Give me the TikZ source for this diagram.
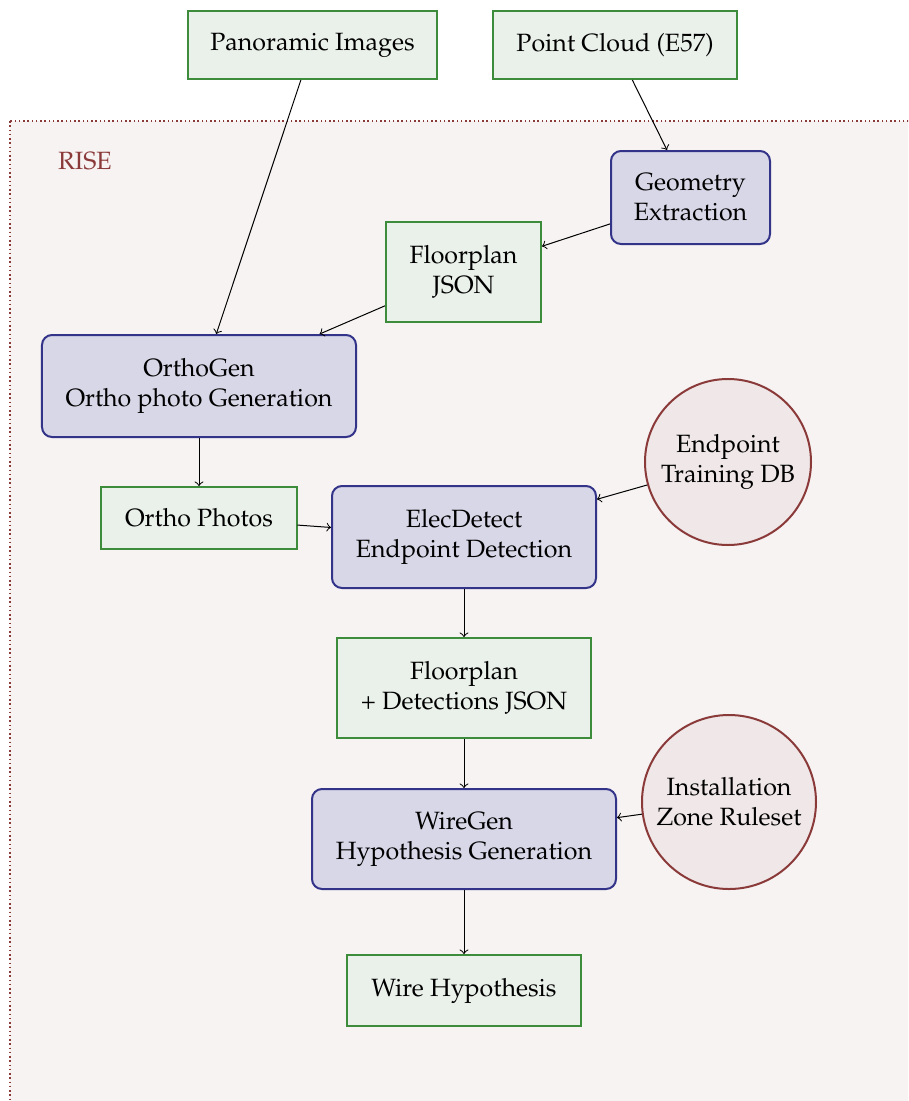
\documentclass[tikz,border=0pt]{standalone}
\usepackage[T1]{fontenc}
\usepackage{mathpazo}
\usetikzlibrary{arrows}
\definecolor{datafill}{HTML}{EAF0EA}
\definecolor{dataline}{HTML}{3C8C3C}
\definecolor{procfill}{HTML}{D8D7E8}
\definecolor{procline}{HTML}{33338A}
\definecolor{risefill}{HTML}{F7F3F2}
\definecolor{riseline}{HTML}{8B3A3A}
\definecolor{dbfill}{HTML}{F0E8E8}
\begin{document}
\begin{tikzpicture}[x=0.4pt,y=-0.4pt,
  font=\fontsize{10}{12}\selectfont,
  databox/.style={draw=dataline,fill=datafill,line width=0.8pt,align=center,inner sep=0pt},
  procbox/.style={draw=procline,fill=procfill,line width=0.8pt,rounded corners=4pt,align=center,inner sep=0pt},
  dbcircle/.style={circle,draw=riseline,fill=dbfill,line width=0.8pt,align=center,inner sep=0pt},
  flow/.style={->,>=to,line width=0.4pt,black}]
  \clip (0,0) rectangle (908,1101);
  % RISE region
  \draw[riseline,fill=risefill,dash pattern=on 0.6pt off 1.1pt,line width=0.7pt] (10,121) rectangle (940,1130);
  \node[text=riseline] (rise) at (85,161) {RISE};
  % inputs
  \node[databox,minimum width=99.6pt,minimum height=27.2pt] (pano) at (312.5,45) {Panoramic Images};
  \node[databox,minimum width=97.6pt,minimum height=27.2pt] (cloud) at (615,45) {Point Cloud (E57)};
  % pipeline
  \node[procbox,minimum width=63.6pt,minimum height=37.2pt] (geom) at (690.5,197.5) {Geometry\\Extraction};
  \node[databox,minimum width=62pt,minimum height=40pt] (floor) at (463.5,272) {Floorplan\\JSON};
  \node[procbox,minimum width=125.6pt,minimum height=40.8pt] (ortho) at (199,386) {OrthoGen\\Ortho photo Generation};
  \node[databox,minimum width=78pt,minimum height=24.8pt] (photos) at (199,518) {Ortho Photos};
  \node[procbox,minimum width=105.6pt,minimum height=40.8pt] (elec) at (464,537) {ElecDetect\\Endpoint Detection};
  \node[dbcircle,minimum size=66.4pt] (train) at (728,462) {Endpoint\\Training DB};
  \node[databox,minimum width=101.6pt,minimum height=40pt] (fdet) at (464,688) {Floorplan\\+ Detections JSON};
  \node[procbox,minimum width=121.6pt,minimum height=40pt] (wire) at (464,839) {WireGen\\Hypothesis Generation};
  \node[dbcircle,minimum size=69.6pt] (rules) at (729,802) {Installation\\Zone Ruleset};
  \node[databox,minimum width=93.6pt,minimum height=28.4pt] (hyp) at (464,990.5) {Wire Hypothesis};
  % connectors
  \draw[flow] (pano) -- (ortho);
  \draw[flow] (cloud) -- (geom);
  \draw[flow] (geom) -- (floor);
  \draw[flow] (floor) -- (ortho);
  \draw[flow] (ortho) -- (photos);
  \draw[flow] (photos) -- (elec);
  \draw[flow] (train) -- (elec);
  \draw[flow] (elec) -- (fdet);
  \draw[flow] (fdet) -- (wire);
  \draw[flow] (rules) -- (wire);
  \draw[flow] (wire) -- (hyp);
\end{tikzpicture}
\end{document}
